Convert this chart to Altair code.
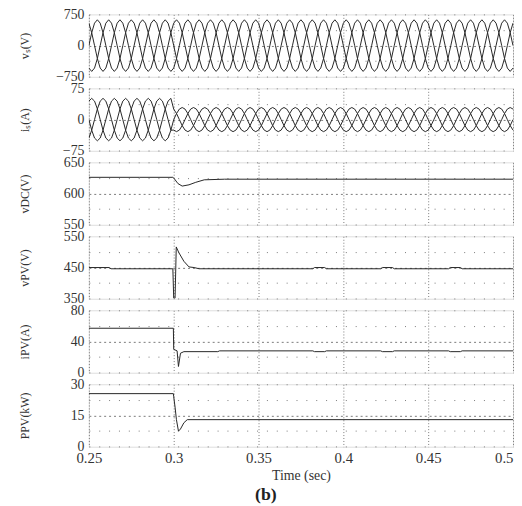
import altair as alt
import pandas as pd

# ---------------- data ----------------
x_ticks = [0.25, 0.3, 0.35, 0.4, 0.45, 0.5]

# one sampled cycle (12 samples) of the periodic phase waveform, 50 Hz
wave_shape = [0, 0.5, 0.87, 1.0, 0.87, 0.5, 0, -0.5, -0.87, -1.0, -0.87, -0.5]
cycle_sec = 0.02
phase_shift = [0, 4, 8]          # samples: 0, 120, 240 degrees
phase_names = ["a", "b", "c"]
n_samples = 151                  # 0.25 .. 0.50 s

vs_amp = [620]                   # supply voltage amplitude (V)
is_amp = [51, 29]                # source current amplitude before / after 0.3 s (A)
is_switch_time = 0.3

vdc_t = [0.25, 0.28, 0.2995, 0.3, 0.3025, 0.305, 0.309, 0.313, 0.318, 0.33, 0.5]
vdc_v = [626, 626, 626, 625, 616, 612, 614, 618, 622, 623, 623]

vpv_t = [0.25, 0.262, 0.263, 0.2995, 0.3, 0.3008, 0.3015, 0.303, 0.306, 0.309, 0.312,
         0.315, 0.382, 0.383, 0.389, 0.390, 0.422, 0.423, 0.429, 0.430, 0.462, 0.463,
         0.469, 0.470, 0.5]
vpv_v = [450, 450, 446, 446, 352, 352, 516, 498, 470, 452, 450,
         446, 446, 450, 450, 446, 446, 450, 450, 446, 446, 450,
         450, 446, 446]

ipv_t = [0.25, 0.2998, 0.3, 0.302, 0.3028, 0.304, 0.306, 0.326, 0.327,
         0.382, 0.383, 0.389, 0.390, 0.422, 0.423, 0.429, 0.430, 0.462, 0.463,
         0.469, 0.470, 0.5]
ipv_v = [57, 57, 30, 28, 8, 25, 27, 27, 28,
         28, 27, 27, 28, 28, 27, 27, 28, 28, 27,
         27, 28, 28]

ppv_t = [0.25, 0.2998, 0.3, 0.3008, 0.3016, 0.3028, 0.304, 0.306, 0.308, 0.5]
ppv_v = [25.5, 25.5, 24, 19, 13, 7.5, 8.5, 11.5, 13, 13]

# ---------------- build tables ----------------
dt = cycle_sec / len(wave_shape)
wave_rows_v, wave_rows_i = [], []
for k in range(n_samples):
    t = 0.25 + k * dt
    for name, sh in zip(phase_names, phase_shift):
        s = wave_shape[(k + sh) % len(wave_shape)]
        wave_rows_v.append({"t": t, "ph": name, "y": vs_amp[0] * s})
        a = is_amp[0] if t < is_switch_time - 1e-9 else is_amp[1]
        s2 = wave_shape[(k + sh + 2) % len(wave_shape)]
        wave_rows_i.append({"t": t, "ph": name, "y": a * s2})
df_vs = pd.DataFrame(wave_rows_v)
df_is = pd.DataFrame(wave_rows_i)
df_vdc = pd.DataFrame({"t": vdc_t, "y": vdc_v})
df_vpv = pd.DataFrame({"t": vpv_t, "y": vpv_v})
df_ipv = pd.DataFrame({"t": ipv_t, "y": ipv_v})
df_ppv = pd.DataFrame({"t": ppv_t, "y": ppv_v})

FONT = "Liberation Serif"
LINE = "#262626"
GRID = "#7a7a7a"


def panel(df, lo, hi, title, last=False, detail=False):
    mid = (lo + hi) / 2
    q = (hi - lo) / 4
    xkw = dict(values=x_ticks, grid=True, gridColor=GRID, gridDash=[1, 2],
               gridWidth=1, ticks=False, domain=False, labelFont=FONT,
               labelFontSize=15, labelColor="#333", labelFlush=False,
               labelAlign={"condition": {"test": "datum.value >= 0.5",
                                         "value": "right"},
                           "value": "center"},
               titleFont=FONT, titleFontSize=14, titleFontWeight="normal",
               titleColor="#333")
    if last:
        xkw.update(labels=True, format="~g", title="Time (sec)", labelPadding=4,
                   titlePadding=3)
    else:
        xkw.update(labels=False, title="")
    yvals = [lo, lo + q, mid, hi - q, hi]
    enc = dict(
        x=alt.X("t:Q", scale=alt.Scale(domain=[0.25, 0.5], nice=False, zero=False),
                axis=alt.Axis(**xkw)),
        y=alt.Y("y:Q", scale=alt.Scale(domain=[lo, hi], nice=False, zero=False),
                axis=alt.Axis(values=yvals, grid=True,
                              gridColor=GRID,
                              gridDash={"condition": {"test": f"datum.value == {mid}",
                                                      "value": [2, 3]},
                                        "value": [1, 9]},
                              labelExpr=f"(datum.value == {lo} || datum.value == {mid} || datum.value == {hi}) ? datum.label : ''",
                              ticks=False,
                              domain=False, labelFont=FONT, labelFontSize=14,
                              labelColor="#333", labelPadding=5, title=title,
                              titleFont=FONT, titleFontSize=12,
                              titleFontWeight="normal", titleColor="#333",
                              titleX=-58)),
    )
    if detail:
        enc["detail"] = "ph:N"
    return alt.Chart(df).mark_line(color=LINE, strokeWidth=1, clip=True).encode(
        **enc).properties(width=430, height=63.3)


chart = alt.vconcat(
    panel(df_vs, -750, 750, "vₛ(V)", detail=True),
    panel(df_is, -75, 75, "iₛ(A)", detail=True),
    panel(df_vdc, 550, 650, "vDC(V)"),
    panel(df_vpv, 350, 550, "vPV(V)"),
    panel(df_ipv, 0, 80, "iPV(A)"),
    panel(df_ppv, 0, 30, "PPV(kW)", last=True),
    spacing=11,
    bounds="flush",
).properties(
    title=alt.TitleParams("(b)", orient="bottom", anchor="middle", font=FONT,
                          fontSize=18, fontWeight="bold", color="#222", offset=4),
    padding={"left": 10, "top": -5, "right": 0, "bottom": 2},
).configure_view(
    stroke="#444", strokeWidth=2
).configure(background="white")

chart.save("out.html", embed_options={"renderer": "svg", "actions": False})
